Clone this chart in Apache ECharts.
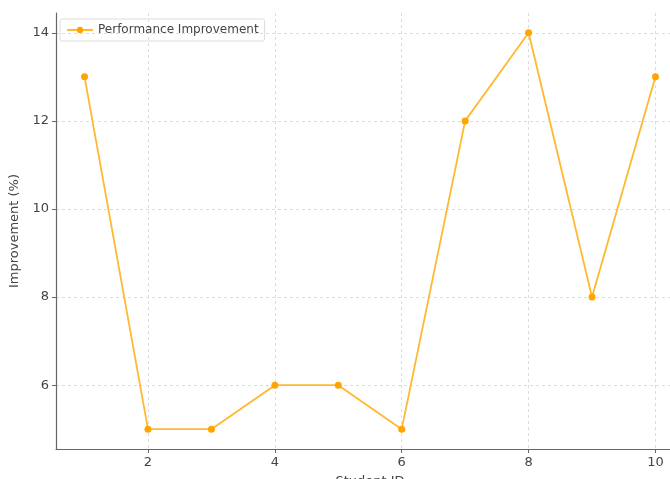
<!DOCTYPE html>
<html><head><meta charset="utf-8">
<script src="https://cdn.jsdelivr.net/npm/echarts@6/dist/echarts.min.js"></script>
<style>html,body{margin:0;padding:0;background:#fff}#c{width:670px;height:479px}</style>
</head><body><div id="c"></div>
<script>
const studentIds = [1, 2, 3, 4, 5, 6, 7, 8, 9, 10];
const improvement = [13, 5, 5, 6, 6, 5, 12, 14, 8, 13];
const xTicks = [2, 4, 6, 8, 10];
const yTicks = [6, 8, 10, 12, 14];
const seriesName = 'Performance Improvement';

const chart = echarts.init(document.getElementById('c'), null, {renderer: 'canvas'});
const font = 'DejaVu Sans';
const gridLine = {show: true, lineStyle: {color: '#d4d4d4', type: [3, 3], width: 0.8}};
chart.setOption({
  animation: false,
  textStyle: {fontFamily: font},
  grid: {left: 56, top: 13, width: 628, height: 436, containLabel: false, outerBoundsMode: 'none'},
  legend: {
    left: 60, top: 19, data: [seriesName],
    itemWidth: 26, itemHeight: 8, itemGap: 6,
    padding: [5, 6, 5, 6],
    borderColor: '#dddddd', borderWidth: 1, borderRadius: 2,
    textStyle: {fontSize: 12, color: '#444', fontFamily: font}
  },
  xAxis: {
    type: 'value', min: 0.55, max: 10.45,
    name: 'Student ID', nameLocation: 'middle', nameGap: 26,
    nameTextStyle: {fontSize: 13, color: '#444', fontFamily: font},
    axisLine: {show: true, onZero: false, lineStyle: {color: '#666', width: 1.2}},
    axisTick: {show: true, inside: false, length: 4, customValues: xTicks, lineStyle: {color: '#666'}},
    axisLabel: {customValues: xTicks, fontSize: 13, color: '#444', margin: 7, fontFamily: font},
    splitLine: gridLine
  },
  yAxis: {
    type: 'value', min: 4.55, max: 14.45,
    name: 'Improvement (%)', nameLocation: 'middle', nameGap: 31, nameRotate: 90,
    nameTextStyle: {fontSize: 13, color: '#444', fontFamily: font},
    axisLine: {show: true, onZero: false, lineStyle: {color: '#666', width: 1.2}},
    axisTick: {show: true, inside: false, length: 4, customValues: yTicks, lineStyle: {color: '#666'}},
    axisLabel: {customValues: yTicks, fontSize: 13, color: '#444', margin: 7, fontFamily: font},
    splitLine: gridLine
  },
  series: [{
    name: seriesName, type: 'line',
    data: studentIds.map((x, i) => [x, improvement[i]]),
    symbol: 'circle', symbolSize: 7,
    itemStyle: {color: '#FFA500'},
    lineStyle: {color: '#FFB830', width: 1.8}
  }]
});
</script></body></html>
